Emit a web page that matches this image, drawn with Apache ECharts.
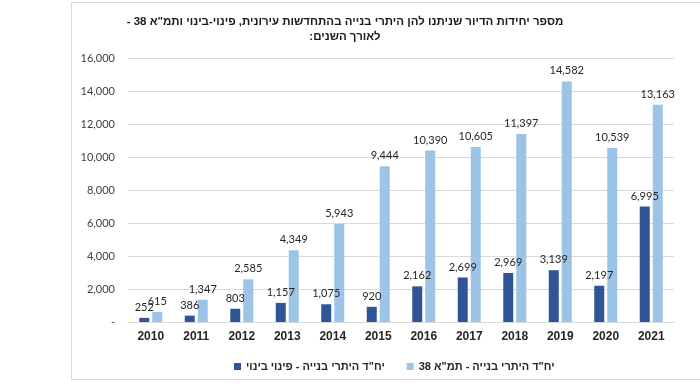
<!DOCTYPE html>
<html>
<head>
<meta charset="utf-8">
<script src="https://cdn.jsdelivr.net/npm/echarts@6/dist/echarts.min.js"></script>
<style>html,body{margin:0;padding:0;background:#fff;}#c{width:700px;height:389px;}</style>
</head>
<body>
<div id="c" dir="rtl"></div>
<script>
const categories = ['2010','2011','2012','2013','2014','2015','2016','2017','2018','2019','2020','2021'];
const pinuiBinui = [252, 386, 803, 1157, 1075, 920, 2162, 2699, 2969, 3139, 2197, 6995];
const tama38 = [615, 1347, 2585, 4349, 5943, 9444, 10390, 10605, 11397, 14582, 10539, 13163];
const seriesNames = ['יח"ד היתרי בנייה - פינוי בינוי', 'יח"ד היתרי בנייה - תמ"א 38'];
const titleText = 'מספר יחידות הדיור שניתנו להן היתרי בנייה בהתחדשות עירונית, פינוי-בינוי ותמ"א 38 -\n\u200Fלאורך השנים:';

const fmt = v => v === 0 ? '-' : v.toLocaleString('en-US');
const chart = echarts.init(document.getElementById('c'));
const labelStyle = {
  show: true, position: 'top', distance: 5,
  fontFamily: 'Lato', fontSize: 11, color: '#262626',
  formatter: p => fmt(p.value)
};
chart.setOption({
  animation: false,
  graphic: [{
    type: 'rect', silent: true,
    shape: {x: 71.5, y: 2.5, width: 700, height: 377},
    style: {fill: 'none', stroke: '#d9d9d9', lineWidth: 1}
  }],
  title: {
    text: titleText, left: 340, top: 9, textAlign: 'center',
    textStyle: {fontFamily: 'Liberation Sans', fontWeight: 'bold', fontSize: 11.5, color: '#1a1a1a', lineHeight: 15}
  },
  legend: {
    data: seriesNames, top: 356, left: 229, itemWidth: 7, itemHeight: 7, itemGap: 22,
    icon: 'rect',
    textStyle: {fontFamily: 'Liberation Sans', fontWeight: 'bold', fontSize: 11, color: '#262626'}
  },
  grid: {left: 128, right: 26, top: 58, bottom: 67},
  xAxis: {
    type: 'category', data: categories,
    axisLine: {lineStyle: {color: '#d9d9d9'}}, axisTick: {show: false},
    axisLabel: {fontFamily: 'Liberation Sans', fontWeight: 'bold', fontSize: 12, color: '#262626', margin: 9}
  },
  yAxis: {
    type: 'value', min: 0, max: 16000, interval: 2000,
    axisLine: {show: false}, axisTick: {show: false},
    splitLine: {lineStyle: {color: '#d9d9d9'}},
    axisLabel: {fontFamily: 'Lato', fontSize: 11, color: '#404040', margin: 13, formatter: fmt}
  },
  series: [
    {name: seriesNames[0], type: 'bar', data: pinuiBinui, barWidth: 10, barGap: '30%',
     itemStyle: {color: '#2f5597'}, label: labelStyle},
    {name: seriesNames[1], type: 'bar', data: tama38, barWidth: 10,
     itemStyle: {color: '#9dc3e6'}, label: labelStyle}
  ]
});
</script>
</body>
</html>
